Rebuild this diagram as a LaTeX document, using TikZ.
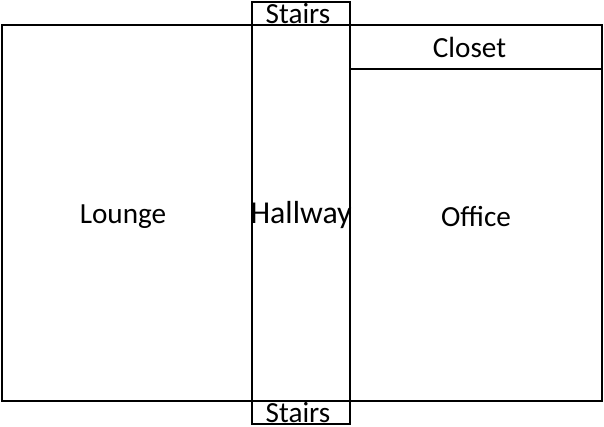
\documentclass[tikz,border=0pt]{standalone}
\usepackage{fontspec}
\setmainfont{Carlito}
\tikzset{room/.style={draw=black,line width=2bp,fill=none},lbl/.style={font=\fontsize{29.3}{30}\selectfont,inner sep=0pt,anchor=base}}
\begin{document}
\begin{tikzpicture}[x=1bp,y=-1bp]
\useasboundingbox[fill=white] (0,0) rectangle (604,426);
\draw[room] (2,25) rectangle (602,401);
\draw[room] (252,2) rectangle (350,424);
\draw[room] (252,25) -- (350,25);
\draw[room] (252,401) -- (350,401);
\draw[room] (350,69) -- (602,69);
\node[lbl] (st1) at (298,23.7) {Stairs};
\node[lbl] (st2) at (298,422.7) {Stairs};
\node[lbl] (cl) at (469.5,57) {Closet};
\node[lbl] (lo) at (123,223) {Lounge};
\node[lbl,font=\fontsize{32}{33}\selectfont] (ha) at (301,223) {Hallway};
\node[lbl] (of) at (476,226) {Office};
\end{tikzpicture}
\end{document}
